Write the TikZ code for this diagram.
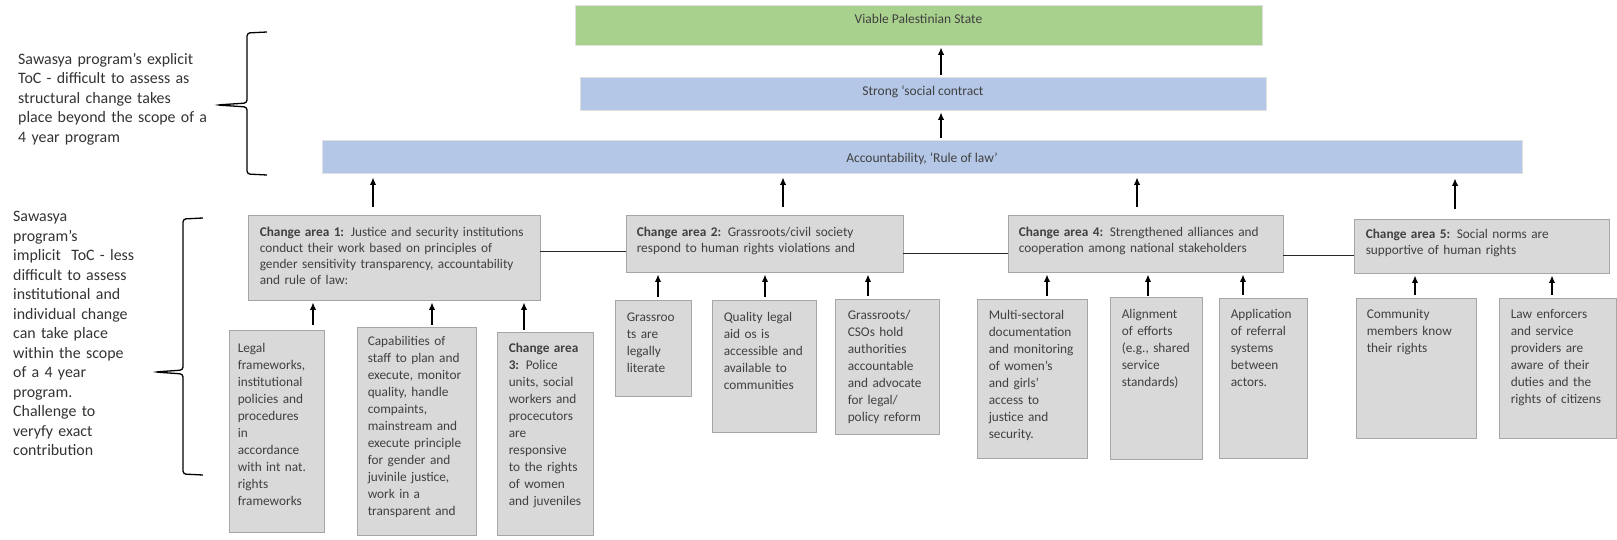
\documentclass[tikz,border=0pt]{standalone}
\usepackage{fontspec}
\setmainfont{Carlito}
\usetikzlibrary{arrows.meta,fit}
\definecolor{vgreen}{HTML}{A9D18E}
\definecolor{vblue}{HTML}{B4C7E7}
\definecolor{gfill}{HTML}{D9D9D9}
\definecolor{gline}{HTML}{A6A6A6}
\definecolor{tgray}{HTML}{404040}
\definecolor{lgray}{HTML}{333333}
\begin{document}
\begin{tikzpicture}[x=1pt,y=-1pt,
  topbox/.style={draw=white!88!black, line width=0.8pt, inner sep=0pt},
  toplabel/.style={text=tgray, font=\fontsize{13.5}{16}\selectfont, inner sep=0pt},
  gbox/.style={draw=gline, fill=gfill, line width=0.9pt, inner sep=0pt},
  catxt/.style={anchor=base west, inner sep=0pt, align=left, text=tgray, text width=#1, font=\fontsize{13.3}{16}\selectfont},
  btxt/.style={anchor=base west, inner sep=0pt, align=left, text=tgray, text width=#1, font=\fontsize{13.3}{17}\selectfont},
  sidetxt/.style={anchor=base west, inner sep=0pt, align=left, text=lgray, text width=#1, font=\fontsize{15.9}{19.5}\selectfont},
  arr/.style={line width=1.4pt, -{Latex[length=7.5pt,width=6.5pt]}},
  hline/.style={line width=0.9pt, draw=black!85},
  bracestyle/.style={line width=1.3pt, rounded corners=3pt}
]
\useasboundingbox (0,0) rectangle (1617,540);
\fill[white] (0,0) rectangle (1617,540);

% top level boxes
\node[topbox, fill=vgreen, fit={(575,5)(1262,45)},
  label={[toplabel, yshift=6pt]center:Viable Palestinian State}] (viable) {};
\node[topbox, fill=vblue, fit={(580,77)(1266,110)},
  label={[toplabel, yshift=2pt]center:Strong ‘social contract}] (strong) {};
\node[topbox, fill=vblue, fit={(322,140)(1522,173)},
  label={[toplabel, yshift=-2pt]center:Accountability, ‘Rule of law’}] (acc) {};

% change areas
\node[gbox, fit={(248,215)(540,300)}] (ca1) {};
\node[gbox, fit={(626,215)(903,272)}] (ca2) {};
\node[gbox, fit={(1008,215)(1283,272)}] (ca4) {};
\node[gbox, fit={(1354,219)(1609,273)}] (ca5) {};

\node[catxt=290pt] (ca1t) at ([xshift=12pt,yshift=-22pt]ca1.north west)
  {\textbf{Change area 1:} Justice and security institutions\\conduct their work based on principles of\\gender sensitivity transparency, accountability\\and rule of law:};
\node[catxt=270pt] (ca2t) at ([xshift=11pt,yshift=-22pt]ca2.north west)
  {\textbf{Change area 2:} Grassroots/civil society\\respond to human rights violations and};
\node[catxt=270pt] (ca4t) at ([xshift=11pt,yshift=-22pt]ca4.north west)
  {\textbf{Change area 4:} Strengthened alliances and\\cooperation among national stakeholders};
\node[catxt=240pt] (ca5t) at ([xshift=12pt,yshift=-20pt]ca5.north west)
  {\textbf{Change area 5:} Social norms are\\supportive of human rights};

% bottom boxes
\node[gbox, fit={(229,330)(324,532)}] (legal) {};
\node[gbox, fit={(357,327)(476,535)}] (capab) {};
\node[gbox, fit={(497,332)(593,535)}] (ca3) {};
\node[gbox, fit={(615,300)(691,396)}] (grass) {};
\node[gbox, fit={(712,300)(816,432)}] (quality) {};
\node[gbox, fit={(835,299)(939,434)}] (csos) {};
\node[gbox, fit={(977,299)(1087,458)}] (multi) {};
\node[gbox, fit={(1110,297)(1202,459)}] (align) {};
\node[gbox, fit={(1219,298)(1307,458)}] (applic) {};
\node[gbox, fit={(1356,298)(1476,438)}] (comm) {};
\node[gbox, fit={(1499,298)(1616,438)}] (law) {};

\node[btxt=110pt] (legalt) at ([xshift=9pt,yshift=-23pt]legal.north west)
  {Legal\\frameworks,\\institutional\\policies and\\procedures\\in\\accordance\\with int nat.\\rights\\frameworks};
\node[btxt=120pt] (capabt) at ([xshift=11pt,yshift=-19pt]capab.north west)
  {Capabilities of\\staff to plan and\\execute, monitor\\quality, handle\\compaints,\\mainstream and\\execute principle\\for gender and\\juvinile justice,\\work in a\\transparent and};
\node[btxt=100pt] (ca3t) at ([xshift=12pt,yshift=-21pt]ca3.north west)
  {\textbf{Change area}\\\textbf{3:} Police\\units, social\\workers and\\procecutors\\are\\responsive\\to the rights\\of women\\and juveniles};
\node[btxt=80pt] (grasst) at ([xshift=12pt,yshift=-22pt]grass.north west)
  {Grassroo\\ts are\\legally\\literate};
\node[btxt=110pt] (qualityt) at ([xshift=12pt,yshift=-22pt]quality.north west)
  {Quality legal\\aid os is\\accessible and\\available to\\communities};
\node[btxt=110pt] (csost) at ([xshift=13pt,yshift=-21pt]csos.north west)
  {Grassroots/\\CSOs hold\\authorities\\accountable\\and advocate\\for legal/\\policy reform};
\node[btxt=110pt] (multit) at ([xshift=12pt,yshift=-21pt]multi.north west)
  {Multi-sectoral\\documentation\\and monitoring\\of women’s\\and girls’\\access to\\justice and\\security.};
\node[btxt=100pt] (alignt) at ([xshift=12pt,yshift=-22pt]align.north west)
  {Alignment\\of efforts\\(e.g., shared\\service\\standards)};
\node[btxt=100pt] (applict) at ([xshift=12pt,yshift=-21pt]applic.north west)
  {Application\\of referral\\systems\\between\\actors.};
\node[btxt=120pt] (commt) at ([xshift=11pt,yshift=-21pt]comm.north west)
  {Community\\members know\\their rights};
\node[btxt=120pt] (lawt) at ([xshift=12pt,yshift=-21pt]law.north west)
  {Law enforcers\\and service\\providers are\\aware of their\\duties and the\\rights of citizens};

% side texts
\node[sidetxt=200pt] (side1) at (18,64.5)
  {Sawasya program’s explicit\\ToC - difficult to assess as\\structural change takes\\place beyond the scope of a\\4 year program};
\node[sidetxt=160pt] (side2) at (13,222)
  {Sawasya\\program’s\\implicit\ \ ToC - less\\difficult to assess\\institutional and\\individual change\\can take place\\within the scope\\of a 4 year\\program.\\Challenge to\\veryfy exact\\contribution};

% braces
\draw[bracestyle] (267,32) -- (247,33) -- (247,103) -- (217,105) -- (247,107) -- (247,174) -- (267,175);
\draw[bracestyle] (203,218) -- (183,219) -- (183,370) -- (155,372) -- (183,374) -- (183,474) -- (203,475);

% helper x positions
\path (941,0) coordinate (xt)
      (373,0) coordinate (x1) (783,0) coordinate (x2) (1137,0) coordinate (x4) (1455,0) coordinate (x5)
      (313,0) coordinate (xl) (432,0) coordinate (xc) (524,0) coordinate (x3)
      (658,0) coordinate (xg) (765,0) coordinate (xq) (868,0) coordinate (xs)
      (1047,0) coordinate (xm) (1148,0) coordinate (xa) (1243,0) coordinate (xp)
      (1415,0) coordinate (xco) (1552,0) coordinate (xla)
      (0,251) coordinate (h1) (0,253) coordinate (h2) (0,255) coordinate (h3);

% top arrows
\draw[arr, shorten <=2pt, shorten >=2pt] (xt |- strong.north) -- (xt |- viable.south);
\draw[arr, shorten <=2pt, shorten >=2pt] (xt |- acc.north) -- (xt |- strong.south);
\draw[arr, shorten <=8pt, shorten >=4pt] (x1 |- ca1.north) -- (x1 |- acc.south);
\draw[arr, shorten <=8pt, shorten >=4pt] (x2 |- ca2.north) -- (x2 |- acc.south);
\draw[arr, shorten <=8pt, shorten >=4pt] (x4 |- ca4.north) -- (x4 |- acc.south);
\draw[arr, shorten <=10pt, shorten >=5pt] (x5 |- ca5.north) -- (x5 |- acc.south);

% bottom arrows
\draw[arr, shorten <=5pt, shorten >=2pt] (xl |- legal.north) -- (xl |- ca1.south);
\draw[arr, shorten <=2pt, shorten >=2pt] (xc |- capab.north) -- (xc |- ca1.south);
\draw[arr, shorten <=2pt, shorten >=2pt] (x3 |- ca3.north) -- (x3 |- ca1.south);
\draw[arr, shorten <=3pt, shorten >=2pt] (xg |- grass.north) -- (xg |- ca2.south);
\draw[arr, shorten <=3pt, shorten >=2pt] (xq |- quality.north) -- (xq |- ca2.south);
\draw[arr, shorten <=3pt, shorten >=2pt] (xs |- csos.north) -- (xs |- ca2.south);
\draw[arr, shorten <=3pt, shorten >=2pt] (xm |- multi.north) -- (xm |- ca4.south);
\draw[arr, shorten <=1pt, shorten >=2pt] (xa |- align.north) -- (xa |- ca4.south);
\draw[arr, shorten <=3pt, shorten >=2pt] (xp |- applic.north) -- (xp |- ca4.south);
\draw[arr, shorten <=3pt, shorten >=2pt] (xco |- comm.north) -- (xco |- ca5.south);
\draw[arr, shorten <=3pt, shorten >=2pt] (xla |- law.north) -- (xla |- ca5.south);

% horizontal links
\draw[hline] (ca1.east |- h1) -- (ca2.west |- h1);
\draw[hline] (ca2.east |- h2) -- (ca4.west |- h2);
\draw[hline] (ca4.east |- h3) -- (ca5.west |- h3);
\end{tikzpicture}
\end{document}
